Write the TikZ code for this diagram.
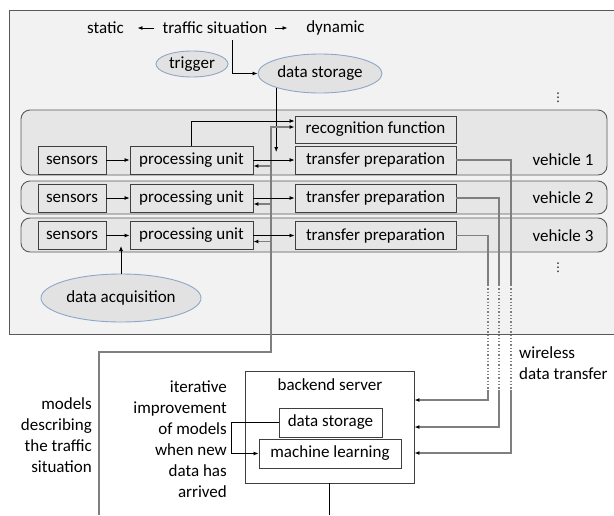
\documentclass[tikz,border=0pt]{standalone}
\usepackage{fontspec}
\setmainfont{Carlito}
\newfontfamily\dotsfont{DejaVu Sans}
\usepackage{tikz}
\usetikzlibrary{positioning, arrows.meta, shapes.geometric}
\definecolor{areafill}{HTML}{F2F2F2}
\definecolor{arealine}{HTML}{595959}
\definecolor{rowfill}{HTML}{E6E6E6}
\definecolor{ellfill}{HTML}{E2E2E2}
\definecolor{ellline}{HTML}{8DA7C7}
\definecolor{boxline}{HTML}{3F3F3F}
\definecolor{wire}{HTML}{7F7F7F}

\begin{document}
\begin{tikzpicture}[x=1pt, y=-1pt, font=\fontsize{17}{21}\selectfont,
    box/.style={draw=boxline, line width=0.9pt, minimum height=28pt, inner sep=0pt},
    row/.style={draw=arealine, fill=rowfill, line width=0.9pt, rounded corners=9pt, minimum width=586pt, inner sep=0pt},
    oval/.style={ellipse, draw=ellline, fill=ellfill, line width=0.9pt, inner sep=0pt},
    txt/.style={inner sep=0pt},
    more/.style={inner sep=0pt, font=\dotsfont\fontsize{12}{12}\selectfont},
    arr/.style={line width=0.8pt, arrows={-Latex[width=4pt, length=5pt]}},
    wirearr/.style={draw=wire, line width=1.3pt, arrows={-Latex[width=4pt, length=5pt, color=black]}},
    wireline/.style={draw=wire, line width=1.3pt}]
    \useasboundingbox (0,0) rectangle (614,515);

    \node[draw=arealine, fill=areafill, line width=1pt, minimum width=640pt, minimum height=324pt, anchor=north west] (area) at (9,10) {};

    \node[txt] (static) at (105.5,28) {static};
    \node[txt] (traffic) at (215,28) {traffic situation};
    \node[txt] (dynamic) at (335.5,28) {dynamic};
    \node[oval, minimum width=72pt, minimum height=26pt] (trigger) at (192,64) {trigger};
    \node[oval, minimum width=124pt, minimum height=39pt] (storage) at (320,73.5) {data storage};
    \node[more] (dots1) at (558,98) {⋮};

    \node[row, minimum height=65pt] (row1) at (314,142.5) {};
    \node[row, minimum height=33pt] (row2) at (314,197.5) {};
    \node[row, minimum height=34pt] (row3) at (314,235) {};

    \node[box, minimum width=161pt, minimum height=27pt] (rec) at (375.5,129.5) {recognition function};

    \node[box, minimum width=68pt] (sens1) at (72,160) {sensors};
    \node[box, minimum width=123pt] (proc1) at (191.5,160) {processing unit};
    \node[box, minimum width=161pt] (trans1) at (375.5,160) {transfer preparation};
    \node[txt] (veh1) at (563,160) {vehicle 1};

    \node[box, minimum width=68pt] (sens2) at (72,198) {sensors};
    \node[box, minimum width=123pt] (proc2) at (191.5,198) {processing unit};
    \node[box, minimum width=161pt] (trans2) at (375.5,198) {transfer preparation};
    \node[txt] (veh2) at (563,198) {vehicle 2};

    \node[box, minimum width=68pt] (sens3) at (72,235.5) {sensors};
    \node[box, minimum width=123pt] (proc3) at (191.5,235.5) {processing unit};
    \node[box, minimum width=161pt] (trans3) at (375.5,235.5) {transfer preparation};
    \node[txt] (veh3) at (563,235.5) {vehicle 3};

    \node[more] (dots2) at (558,268) {⋮};
    \node[oval, minimum width=160pt, minimum height=48pt] (acq) at (121,298) {data acquisition};

    \node[box, minimum width=169pt, minimum height=112pt] (backend) at (329.5,427) {};
    \node[txt] (bktitle) at (330,385) {backend server};
    \node[box, minimum width=103pt, minimum height=29pt] (bkstore) at (330.5,422.5) {data storage};
    \node[box, minimum width=142pt, minimum height=29pt] (learn) at (330,453.5) {machine learning};

    \node[txt, align=right, anchor=east] (models) at (92,435.5) {models\\describing\\the traffic\\situation};
    \node[txt, align=right, anchor=east] (iter) at (227,439.5) {iterative\\improvement\\of models\\when new\\data has\\arrived};
    \node[txt, align=left, anchor=west] (wireless) at (519,363.5) {wireless\\data transfer};

    \coordinate (dsin) at (277,152);
    \coordinate (acqin) at (121,246);
    \coordinate (mbot) at (99,515);
    \coordinate (mcorner) at (271,352);
    \coordinate (bout) at (329.5,515);
    \coordinate (w1a) at (511,285);
    \coordinate (w1b) at (511,390);
    \coordinate (w2a) at (499,285);
    \coordinate (w2b) at (499,390);
    \coordinate (w3a) at (488,285);
    \coordinate (w3b) at (488,390);

    \draw[arr] (traffic.west) ++(-8pt,0) -- ++(-17pt,0);
    \draw[arr] (traffic.east) ++(7pt,0) -- ++(13pt,0);
    \draw[arr] ([xshift=17pt, yshift=-6pt]traffic.south) |- (storage.west);
    \draw[arr] (storage.198) -- (storage.198 |- dsin);

    \draw[arr] (proc1.north) |- ([yshift=8.5pt]rec.west);
    \draw[wirearr] (mbot) |- (mcorner) |- ([yshift=2.5pt]rec.west);

    \draw[arr] (sens1) -- (proc1);
    \draw[arr] (sens2) -- (proc2);
    \draw[arr] (sens3) -- (proc3);
    \draw[arr] (proc1) -- (trans1);
    \draw[arr] (proc2) -- (trans2);
    \draw[arr] (proc3) -- (trans3);
    \draw[wirearr] (proc1.east) ++(18pt,-6pt) -- ++(-18pt,0);
    \draw[wirearr] (proc2.east) ++(18pt,-6pt) -- ++(-18pt,0);
    \draw[wirearr] (proc3.east) ++(18pt,-6pt) -- ++(-18pt,0);
    \draw[arr] (acq.north) -- (acqin);

    \draw[wireline] (trans1.east) -| (w1a);
    \draw[wireline] (trans2.east) -| (w2a);
    \draw[wireline] (trans3.east) -| (w3a);
    \draw[wireline, dotted] (w1a) -- (w1b);
    \draw[wireline, dotted] (w2a) -- (w2b);
    \draw[wireline, dotted] (w3a) -- (w3b);
    \draw[wirearr] (w3b) |- ([yshift=27pt]backend.east);
    \draw[wirearr] (w2b) |- (backend.east);
    \draw[wirearr] (w1b) |- ([yshift=-26pt]backend.east);

    \draw[arr] (bkstore.west) -- ++(-47pt,0) |- (learn.west);
    \draw[line width=0.8pt] (backend.south) -- (bout);
  \end{tikzpicture}
\end{document}
